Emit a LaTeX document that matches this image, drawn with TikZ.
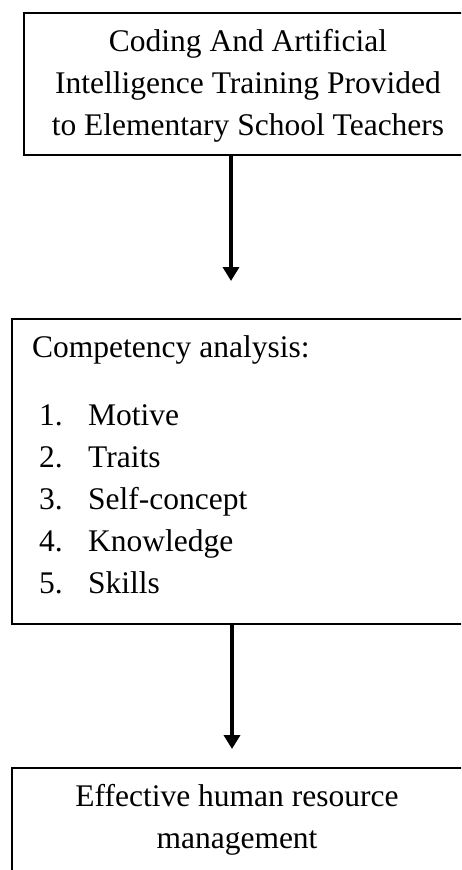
\documentclass[tikz,border=0pt]{standalone}
\usepackage{fontspec}
\setmainfont{Liberation Serif}
\usetikzlibrary{arrows.meta}
\newcommand{\itemno}[1]{\makebox[49pt][l]{#1}}
\begin{document}
\begin{tikzpicture}[x=1pt,y=1pt,
  box/.style={draw=black,line width=2pt,rectangle,inner sep=0pt},
  txt/.style={inner sep=0pt,font=\fontsize{31.5}{42}\selectfont},
  flow/.style={line width=4pt,-{Triangle[width=16pt,length=14pt]}},
]
\useasboundingbox (0,0) rectangle (461,-870);
\clip (0,0) rectangle (461,-870);
% boxes
\node[box,minimum width=450pt,minimum height=142pt,anchor=north west] (b1) at (23,-12) {};
\node[box,minimum width=470pt,minimum height=305pt,anchor=north west] (b2) at (11,-318) {};
\node[box,minimum width=470pt,minimum height=160pt,anchor=north west] (b3) at (11,-767) {};
% texts (base anchor sits on the last line)
\node[txt,align=center,anchor=base] (t1) at (248,-135) {Coding And Artificial\\Intelligence Training Provided\\to Elementary School Teachers};
\node[txt,anchor=base west] (t2) at (32,-357) {Competency analysis:};
\node[txt,align=left,anchor=base west] (t3) at (39,-593) {\itemno{1.}Motive\\\itemno{2.}Traits\\\itemno{3.}Self-concept\\\itemno{4.}Knowledge\\\itemno{5.}Skills};
\node[txt,align=center,anchor=base] (t4) at (237,-848) {Effective human resource\\management};
% arrows
\coordinate (e1) at (231,-281);
\coordinate (e2) at (232,-749);
\draw[flow] (b1.south -| e1) -- (e1);
\draw[flow] (b2.south -| e2) -- (e2);
\end{tikzpicture}
\end{document}
